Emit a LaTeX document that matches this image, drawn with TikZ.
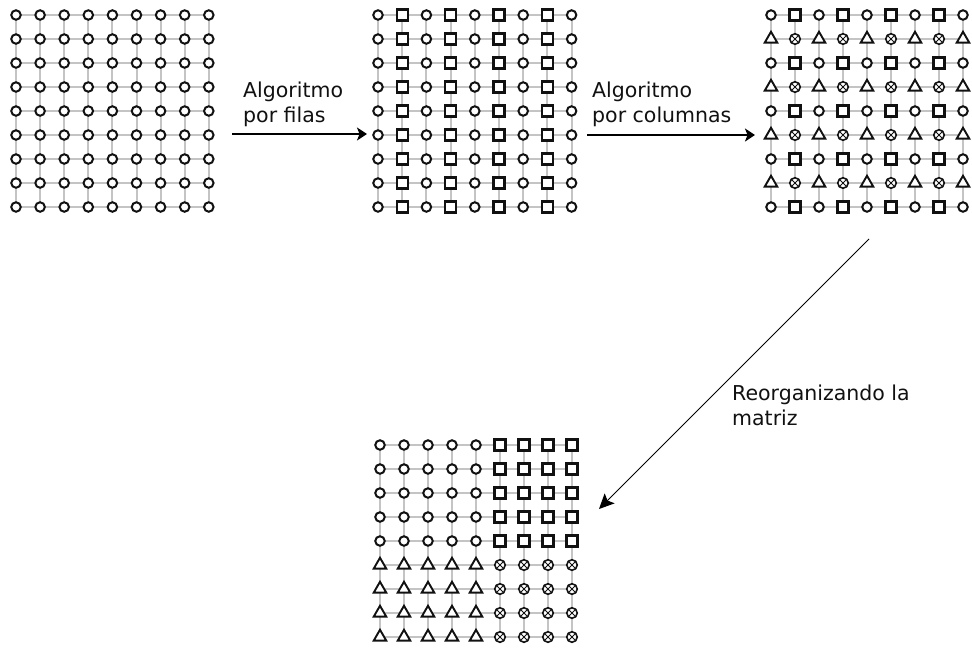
\documentclass[tikz,border=0pt]{standalone}
\usepackage{fontspec}
\setmainfont{DejaVu Sans}
\usetikzlibrary{shapes.geometric,arrows.meta,backgrounds}
\definecolor{symc}{HTML}{111111}
\definecolor{gridc}{HTML}{C4C4C4}
\begin{document}
\begin{tikzpicture}[x=1pt,y=-1pt,
  sym/.style={draw=symc, fill=white, inner sep=0pt},
  circ/.style={sym, circle, minimum size=9.5pt, line width=2pt},
  sqr/.style={sym, rectangle, minimum size=11pt, line width=2.2pt},
  tri/.style={sym, regular polygon, regular polygon sides=3, minimum size=14.5pt, line width=1.9pt},
  otim/.style={sym, circle, minimum size=10.5pt, line width=1.6pt,
    path picture={\draw[line width=0.9pt, symc] (path picture bounding box.south west) -- (path picture bounding box.north east) (path picture bounding box.north west) -- (path picture bounding box.south east);}},
  gline/.style={draw=gridc, line width=2pt},
  lbl/.style={font=\fontsize{20.5}{25}\selectfont, inner sep=0pt, anchor=base west, text=symc},
  arr/.style={draw=black, line width=1.6pt, -{Stealth[length=10pt,width=13pt,inset=2.5pt]}},
  darr/.style={draw=black, line width=1pt, -{Stealth[length=15pt,width=14pt,inset=3pt]}},
]
\useasboundingbox (0,0) rectangle (972,649);

% grid 1: all circles
\foreach \r in {1,...,9} \foreach \c in {1,...,9} {
  \node[circ] (a-\r-\c) at ({16+24.1*(\c-1)},{15+24*(\r-1)}) {};
}
% grid 2: circles and squares by column
\foreach \r in {1,...,9} \foreach \c in {1,...,9} {
  \ifodd\c\relax
    \node[circ] (b-\r-\c) at ({378+24.2*(\c-1)},{15+24*(\r-1)}) {};
  \else
    \node[sqr] (b-\r-\c) at ({378+24.2*(\c-1)},{15+24*(\r-1)}) {};
  \fi
}
% grid 3: after column algorithm
\foreach \r in {1,...,9} \foreach \c in {1,...,9} {
  \ifodd\r\relax
    \ifodd\c\relax
      \node[circ] (c-\r-\c) at ({771+24*(\c-1)},{15+24*(\r-1)}) {};
    \else
      \node[sqr] (c-\r-\c) at ({771+24*(\c-1)},{15+24*(\r-1)}) {};
    \fi
  \else
    \ifodd\c\relax
      \node[tri] (c-\r-\c) at ({771+24*(\c-1)},{15+24*(\r-1)}) {};
    \else
      \node[otim] (c-\r-\c) at ({771+24*(\c-1)},{15+24*(\r-1)}) {};
    \fi
  \fi
}
% grid 4: reorganized
\foreach \r in {1,...,9} \foreach \c in {1,...,9} {
  \ifnum\r<6\relax
    \ifnum\c<6\relax
      \node[circ] (d-\r-\c) at ({380+24*(\c-1)},{445+24*(\r-1)}) {};
    \else
      \node[sqr] (d-\r-\c) at ({380+24*(\c-1)},{445+24*(\r-1)}) {};
    \fi
  \else
    \ifnum\c<6\relax
      \node[tri] (d-\r-\c) at ({380+24*(\c-1)},{445+24*(\r-1)}) {};
    \else
      \node[otim] (d-\r-\c) at ({380+24*(\c-1)},{445+24*(\r-1)}) {};
    \fi
  \fi
}

\begin{scope}[on background layer]
  \fill[white] (0,0) rectangle (972,649);
  \foreach \g in {a,b,c,d} \foreach \i in {1,...,9} {
    \draw[gline] (\g-\i-1.center) -- (\g-\i-9.center);
    \draw[gline] (\g-1-\i.center) -- (\g-9-\i.center);
  }
\end{scope}

% arrows
\coordinate (p1s) at (232,134);
\coordinate (p1e) at (367,134);
\coordinate (p2s) at (587,135);
\coordinate (p2e) at (755,135);
\coordinate (p3s) at (869,239);
\coordinate (p3e) at (599,509);
\draw[arr] (p1s) -- (p1e);
\draw[arr] (p2s) -- (p2e);
\draw[darr] (p3s) -- (p3e);

% labels
\node[lbl] (t1a) at (243,97) {Algoritmo};
\node[lbl] (t1b) at (243,122) {por filas};
\node[lbl] (t2a) at (592,97) {Algoritmo};
\node[lbl] (t2b) at (592,122) {por columnas};
\node[lbl] (t3a) at (732,400) {Reorganizando la};
\node[lbl] (t3b) at (732,425) {matriz};
\end{tikzpicture}
\end{document}
